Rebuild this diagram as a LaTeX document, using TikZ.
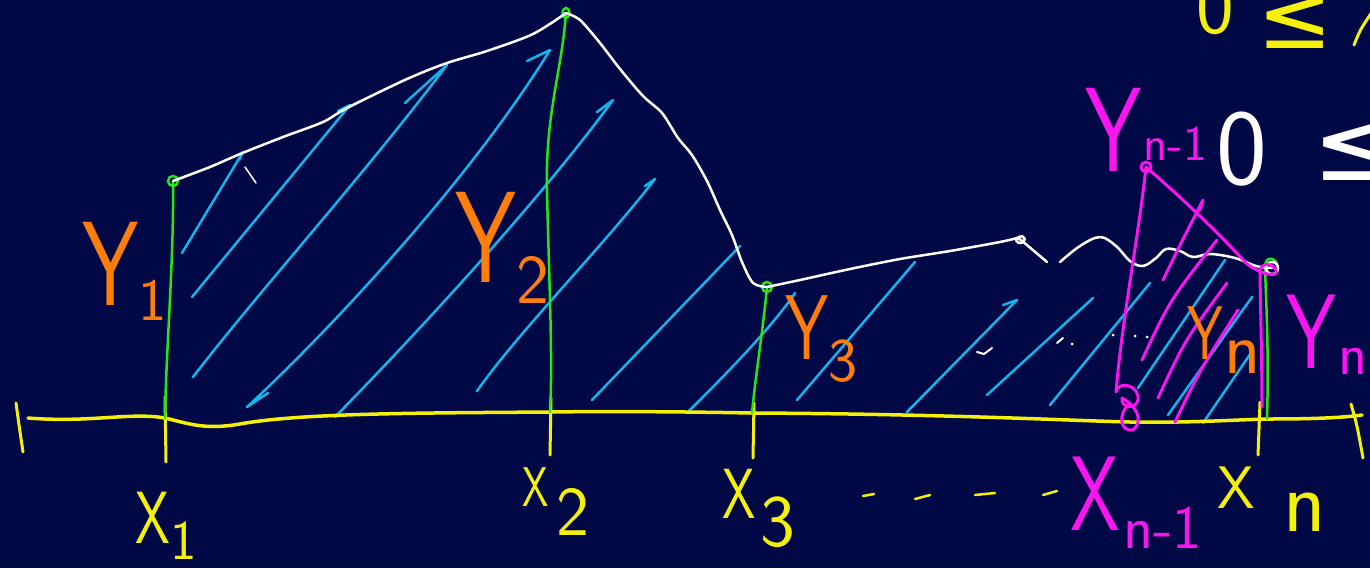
\documentclass[tikz,border=0pt]{standalone}
\usepackage{graphicx}
\usepackage{fontspec}
\newfontfamily\symfont{DejaVu Sans}
\definecolor{board}{RGB}{0,8,70}
\definecolor{chalkyellow}{RGB}{245,240,10}
\definecolor{chalkgreen}{RGB}{40,230,20}
\definecolor{chalkcyan}{RGB}{20,180,235}
\definecolor{chalkorange}{RGB}{255,125,10}
\definecolor{chalkpink}{RGB}{250,20,240}
\newcommand{\hand}[1]{\sffamily\fontsize{#1}{#1}\selectfont}
\newcommand{\symhand}[1]{\symfont\fontsize{#1}{#1}\selectfont}
\newcommand{\narrow}[1]{\scalebox{0.75}[1]{#1}}

\begin{document}
\begin{tikzpicture}[x=1pt, y=-1pt,
    axis/.style = {draw=chalkyellow, line width=3.5pt, line cap=round, line join=round},
    tick/.style = {draw=chalkyellow, line width=3pt, line cap=round},
    ordinate/.style = {draw=chalkgreen, line width=2.5pt, line cap=round},
    curve/.style = {draw=white, line width=2.5pt, line cap=round, line join=round},
    hatch/.style = {draw=chalkcyan, line width=2.5pt, line cap=round, line join=round},
    pen/.style = {draw=chalkpink, line width=3pt, line cap=round, line join=round},
    lab/.style = {inner sep=0pt, anchor=north west}]

  \useasboundingbox (0,0) rectangle (1370,568);
  \fill[board] (0,0) rectangle (1370,568);
  \clip (0,0) rectangle (1370,568);

  % points on the axis and on the curve
  \coordinate (A1) at (165,418);
  \coordinate (A2) at (550,412);
  \coordinate (A3) at (752,413);
  \coordinate (An) at (1267,419);
  \coordinate (P1) at (173,181);
  \coordinate (P2) at (566,13);
  \coordinate (P3) at (767,287);
  \coordinate (Pn) at (1272,268);
  \coordinate (Pm) at (1146,167);

  % hatching
  \draw[hatch] (182,253) -- (243,152) -- (239,160);
  \draw[hatch] (192,297) -- (350,105) -- (338,111);
  \draw[hatch] (193,377) .. controls (260,290) and (360,180) .. (447,65) -- (405,103);
  \draw[hatch] (268,393) -- (247,407) .. controls (330,330) and (470,180) .. (550,50) -- (527,61);
  \draw[hatch] (335,417) .. controls (420,330) and (540,200) .. (613,100) -- (597,112);
  \draw[hatch] (477,391) .. controls (520,330) and (600,250) .. (655,179) -- (645,186);
  \draw[hatch] (592,400) -- (740,246);
  \draw[hatch] (687,413) .. controls (720,380) and (770,330) .. (795,293) -- (790,301);
  \draw[hatch] (797,400) -- (915,262);
  \draw[hatch] (907,412) -- (1017,300) -- (1003,305);
  \draw[hatch] (987,395) -- (1093,298);
  \draw[hatch] (1050,405) -- (1150,283);
  \draw[hatch] (1138,388) -- (1225,260);
  \draw[hatch] (1168,415) -- (1252,297);
  \draw[hatch] (1203,423) -- (1253,350);

  % x axis
  \draw[axis] (28,418) .. controls (90,423) and (130,412) .. (A1)
     .. controls (190,424) and (205,430) .. (240,424)
     .. controls (300,413) and (420,413) .. (A2)
     .. controls (620,411) and (700,412) .. (A3)
     .. controls (950,414) and (1080,421) .. (1130,422)
     .. controls (1190,423) and (1230,420) .. (An)
     .. controls (1310,419) and (1340,418) .. (1362,415);
  \draw[tick] (16,403) .. controls (19,425) .. (23,452);
  \draw[tick] (165,397) -- (166,462);
  \draw[tick] (551,398) -- (550,455);
  \draw[tick] (754,403) -- (753,458);
  \draw[tick] (1260,402) -- (1258,455);
  \draw[tick] (1351,404) .. controls (1357,425) .. (1363,458);

  % ordinates
  \draw[ordinate] (P1) circle[radius=5pt];
  \draw[ordinate] (P1) .. controls (174,260) and (166,350) .. (A1);
  \draw[ordinate] (P2) ellipse[x radius=3.5pt, y radius=5pt];
  \draw[ordinate] (P2) .. controls (562,70) and (545,115) .. (547,190)
     .. controls (549,280) and (553,360) .. (A2);
  \draw[ordinate] (P3) circle[radius=5pt];
  \draw[ordinate] (P3) .. controls (763,330) and (755,380) .. (A3);
  \draw[ordinate] (An) .. controls (1269,350) and (1266,300) .. (1265,268)
     .. controls (1264,257) and (1274,256) .. (1277,264);

  % the curve
  \draw[curve] plot[smooth, tension=0.5] coordinates {(P1) (210,167) (240,154) (283,137)
     (323,122) (347,108) (407,79) (447,63) (487,51) (533,34) (P2)};
  \draw[curve] plot[smooth, tension=0.5] coordinates {(P2) (580,20) (600,43) (620,69)
     (643,96) (662,113) (678,138) (692,155) (707,181) (720,210) (732,235) (742,262)
     (753,283) (P3)};
  \draw[curve] plot[smooth, tension=0.5] coordinates {(P3) (800,280) (850,269) (900,259)
     (950,251) (1000,242) (1017,238)};
  \draw[curve] (1017,238) .. controls (1026,232) and (1028,244) .. (1019,243)
     .. controls (1014,241) and (1016,236) .. (1021,240) -- (1047,262);
  \draw[curve] plot[smooth, tension=0.6] coordinates {(1060,262) (1080,246) (1100,237)
     (1116,246) (1130,261) (1143,266) (1156,258) (1166,249) (1180,251) (1193,257)
     (1210,254) (1235,258) (1256,266) (Pn)};
  \draw[curve] (Pn) circle[radius=6pt];
  \draw[curve, line width=1.5pt] (245,167) -- (256,183);
  \draw[curve, line width=2pt] (977,352) -- (984,354) -- (992,348);
  \draw[curve, line width=2pt] (1057,343) -- (1063,338);
  \fill[white] (1072,344) circle[radius=1.5pt];
  \fill[white] (1113,335) circle[radius=1.5pt];
  \fill[white] (1135,336) circle[radius=1.5pt];
  \fill[white] (1147,337) circle[radius=1.5pt];

  % last strip
  \draw[pen] (Pm) circle[radius=5pt];
  \draw[pen] (Pm) .. controls (1138,240) and (1122,320) .. (1116,392)
     .. controls (1118,380) and (1140,385) .. (1138,400)
     .. controls (1136,410) and (1120,408) .. (1122,398)
     .. controls (1135,405) and (1145,420) .. (1133,430)
     .. controls (1120,432) and (1118,415) .. (1128,405);
  \draw[pen] (Pm) .. controls (1190,205) and (1225,240) .. (1245,262)
     .. controls (1255,272) and (1280,280) .. (1276,270)
     .. controls (1272,262) and (1258,262) .. (1260,275)
     .. controls (1261,330) and (1262,370) .. (1262,407);
  \draw[pen] (1163,280) .. controls (1180,245) .. (1203,200) -- (1200,210);
  \draw[pen] (1142,360) .. controls (1170,300) .. (1217,240);
  \draw[pen] (1158,398) .. controls (1185,340) .. (1227,283);
  \draw[pen] (1175,422) .. controls (1200,370) .. (1238,310);

  % dots between x3 and x(n-1)
  \draw[tick, line width=2.5pt] (863,496) -- (874,494);
  \draw[tick, line width=2.5pt] (915,499) -- (930,495);
  \draw[tick, line width=2.5pt] (975,495) -- (995,493);
  \draw[tick, line width=2.5pt] (1043,495) -- (1057,491);

  % labels
  \node[lab, text=chalkorange, font=\hand{120}] (y1) at (82,222) {\narrow{Y}};
  \node[lab, text=chalkorange, font=\hand{60}] (y1sub) at (138,280) {1};
  \node[lab, text=chalkorange, font=\hand{130}] (y2) at (455,192) {\narrow{Y}};
  \node[lab, text=chalkorange, font=\hand{70}] (y2sub) at (516,256) {2};
  \node[lab, text=chalkorange, font=\hand{92}] (y3) at (785,295) {\narrow{Y}};
  \node[lab, text=chalkorange, font=\hand{62}] (y3sub) at (828,340) {3};
  \node[lab, text=chalkorange, font=\hand{76}] (yn) at (1187,307) {\narrow{Y}};
  \node[lab, text=chalkorange, font=\hand{75}] (ynsub) at (1224,340) {n};

  \node[lab, text=chalkyellow, font=\hand{74}] (x1) at (135,492) {\narrow{X}};
  \node[lab, text=chalkyellow, font=\hand{56}] (x1sub) at (170,522) {1};
  \node[lab, text=chalkyellow, font=\hand{56}] (x2) at (522,467) {\narrow{X}};
  \node[lab, text=chalkyellow, font=\hand{70}] (x2sub) at (556,488) {2};
  \node[lab, text=chalkyellow, font=\hand{71}] (x3) at (722,469) {\narrow{X}};
  \node[lab, text=chalkyellow, font=\hand{74}] (x3sub) at (760,497) {3};
  \node[lab, text=chalkyellow, font=\hand{60}] (xn) at (1217,467) {X};
  \node[lab, text=chalkyellow, font=\hand{88}] (xnsub) at (1283,493) {n};

  \node[lab, text=chalkpink, font=\hand{106}] (xm) at (1070,457) {\narrow{X}};
  \node[lab, text=chalkpink, font=\hand{62}] (xmsub) at (1123,507) {n-1};
  \node[lab, text=chalkpink, font=\hand{120}] (ym) at (1085,88) {\narrow{Y}};
  \node[lab, text=chalkpink, font=\hand{50}] (ymsub) at (1143,127) {n-1};
  \node[lab, text=chalkpink, font=\hand{106}] (ynr) at (1286,295) {\narrow{Y}};
  \node[lab, text=chalkpink, font=\hand{60}] (ynrsub) at (1338,348) {n};

  % remarks at the top right
  \node[lab, text=white, font=\hand{108}] (zero) at (1216,112) {0};
  \node[anchor=west, inner sep=0pt, text=white, font=\symhand{105}] (leq) at (1312,150) {≤};
  \node[anchor=base west, inner sep=0pt, text=chalkyellow, font=\hand{80}] (topzero) at (1196,33) {0};
  \node[anchor=west, inner sep=0pt, text=chalkyellow, font=\symhand{90}] (topleq) at (1257,22) {≤};
  \draw[tick] (1354,45) .. controls (1360,30) .. (1372,12);
\end{tikzpicture}
\end{document}
